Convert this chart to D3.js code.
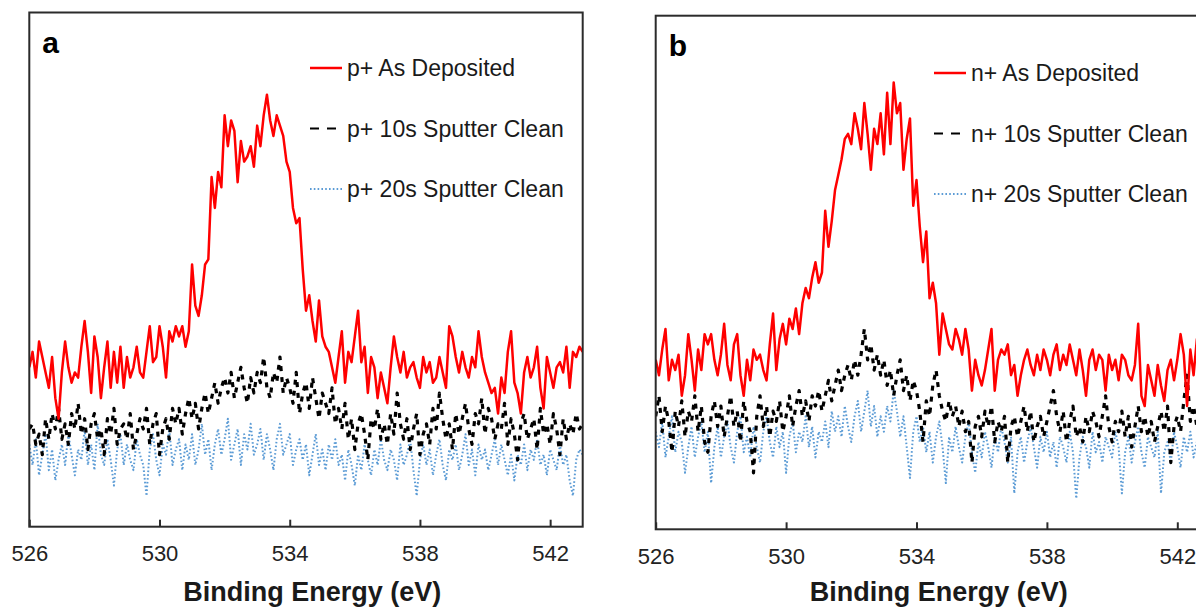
<!DOCTYPE html>
<html>
<head>
<meta charset="utf-8">
<script src="https://cdn.jsdelivr.net/npm/d3@7"></script>
<style>
  body { margin: 0; background: #fff; }
  text { font-family: "Liberation Sans", Arial, sans-serif; fill: #222; }
</style>
</head>
<body>
<svg id="chart" width="1196" height="609"></svg>
<script>
// O 1s spectra, binding energy 526 - 543 eV sampled every 0.1 eV, intensity in a.u.
var energyStart = 526;
var energyStep = 0.1;
var xDomain = [526, 543];
var yDomain = [0, 100];
var tickValues = [526, 530, 534, 538, 542];

var pLabels = ['p+ As Deposited', 'p+ 10s Sputter Clean', 'p+ 20s Sputter Clean'];
var nLabels = ['n+ As Deposited', 'n+ 10s Sputter Clean', 'n+ 20s Sputter Clean'];

var pAsDeposited = [
    31, 34, 29, 36, 33, 30, 27, 33, 25, 21,
    30, 36, 31, 28, 30, 29, 35, 40, 34, 26,
    37, 33, 25, 31, 36, 27, 34, 28, 35, 27,
    33, 29, 31, 35, 30, 29, 34, 39, 32, 33,
    39, 35, 29, 38, 36, 39, 37, 39, 35, 38,
    51, 43, 41, 45, 51, 52, 68, 62, 69, 66,
    80, 74, 79, 77, 67, 75, 71, 72, 74, 70,
    78, 74, 80, 84, 79, 76, 80, 78, 76, 71,
    69, 62, 59, 60, 50, 42, 45, 40, 36, 44,
    37, 35, 34, 31, 28, 33, 38, 28, 34, 32,
    37, 42, 32, 35, 26, 33, 31, 25, 30, 27,
    24, 31, 37, 33, 30, 34, 29, 31, 32, 29,
    27, 33, 30, 32, 28, 29, 33, 30, 27, 39,
    37, 33, 30, 34, 31, 29, 33, 31, 38, 33,
    30, 28, 26, 27, 22, 29, 26, 34, 38, 28,
    26, 22, 30, 33, 29, 31, 35, 27, 23, 33,
    30, 27, 31, 32, 30, 35, 27, 34, 33, 35,
    34
];

var p10sSputter = [
    19, 20, 16, 18, 14, 21, 17, 22, 19, 23,
    17, 20, 16, 22, 19, 24, 18, 21, 15, 20,
    22, 17, 19, 14, 21, 18, 23, 16, 19, 20,
    17, 22, 15, 18, 21, 19, 23, 16, 20, 22,
    14, 19, 21, 17, 23, 20, 23, 18, 22, 25,
    21, 24, 19, 23, 26, 22, 25, 28, 24, 27,
    29, 26, 30, 25, 28, 31, 27, 24, 29, 26,
    30, 28, 33, 27, 25, 30, 28, 33, 26, 29,
    27, 24, 30, 22, 26, 28, 23, 29, 25, 21,
    26, 24, 22, 27, 20, 23, 19, 24, 17, 21,
    15, 20, 22, 18, 13, 21, 19, 23, 17, 20,
    16, 22, 18, 26, 20, 17, 21, 15, 19, 22,
    14, 18, 20, 16, 23, 19, 26, 21, 17, 20,
    15, 22, 18, 21, 24, 19, 16, 22, 20, 25,
    18, 23, 21, 17, 20, 19, 24, 16, 21, 18,
    13, 20, 22, 17, 19, 21, 15, 23, 18, 20,
    16, 22, 19, 14, 21, 17, 20, 18, 22, 19,
    20
];

var p20sSputter = [
    16, 12, 17, 10, 14, 18, 11, 15, 9, 13,
    16, 12, 18, 14, 10, 15, 13, 19, 12, 16,
    11, 20, 14, 12, 17, 13, 8, 15, 18, 12,
    16, 13, 11, 17, 14, 12, 6, 15, 18, 13,
    10, 16, 14, 19, 12, 15, 17, 11, 16, 13,
    18, 12, 15, 20, 14, 17, 11, 16, 19, 14,
    17, 21, 13, 16, 19, 12, 18, 15, 20, 14,
    16, 19, 13, 18, 15, 11, 17, 20, 14, 16,
    18, 12, 15, 17, 13, 16, 10, 14, 18, 12,
    15, 11, 16, 13, 17, 12, 14, 9, 15, 12,
    8, 14, 11, 16, 13, 10, 15, 12, 17, 13,
    11, 15, 13, 9, 16, 12, 14, 17, 11, 6,
    13, 16, 12, 15, 10, 14, 17, 12, 9, 15,
    13, 16, 11, 14, 18, 12, 15, 10, 16, 13,
    15, 11, 14, 17, 12, 16, 13, 10, 14, 9,
    14, 12, 16, 11, 15, 13, 17, 12, 14, 10,
    15, 13, 11, 16, 12, 14, 9, 6, 13, 15,
    14
];

var nAsDeposited = [
    33, 30, 35, 39, 29, 33, 31, 34, 26, 30,
    38, 33, 27, 35, 31, 38, 36, 38, 33, 30,
    34, 40, 32, 29, 36, 38, 30, 26, 33, 29,
    35, 33, 34, 31, 29, 36, 42, 31, 37, 40,
    36, 41, 39, 43, 38, 44, 47, 45, 49, 52,
    48, 50, 62, 55, 60, 66, 69, 72, 76, 77,
    75, 81, 78, 74, 83, 77, 70, 78, 75, 81,
    73, 85, 75, 87, 81, 83, 70, 76, 80, 63,
    68, 59, 52, 58, 45, 48, 44, 34, 42, 39,
    36, 35, 39, 37, 34, 39, 35, 27, 33, 30,
    28, 31, 35, 39, 27, 33, 35, 34, 36, 30,
    32, 26, 30, 33, 35, 32, 30, 34, 31, 35,
    33, 30, 34, 36, 31, 34, 32, 36, 33, 30,
    35, 31, 26, 33, 35, 31, 34, 33, 27, 34,
    31, 33, 29, 34, 33, 30, 29, 32, 40, 26,
    24, 32, 29, 26, 32, 28, 25, 31, 33, 29,
    33, 38, 34, 24, 35, 30, 37, 32, 28, 33,
    31
];

var n10sSputter = [
    22, 26, 19, 24, 21, 15, 23, 20, 25, 18,
    23, 21, 26, 19, 24, 17, 15, 22, 25, 20,
    24, 18, 22, 26, 20, 23, 17, 25, 21, 19,
    11, 22, 26, 20, 24, 18, 23, 21, 25, 19,
    22, 26, 20, 24, 27, 22, 25, 21, 26, 24,
    27, 23, 26, 29, 25, 28, 31, 27, 30, 32,
    29, 33, 30, 34, 39, 33, 36, 31, 34, 30,
    33, 28, 31, 26, 30, 33, 27, 30, 25, 29,
    27, 23, 17, 25, 22, 28, 31, 26, 23, 21,
    25, 22, 24, 20, 23, 19, 21, 13, 20, 22,
    18, 23, 20, 24, 17, 21, 19, 22, 13, 20,
    22, 18, 21, 24, 19, 23, 17, 20, 22, 18,
    21, 24, 27, 22, 19, 23, 17, 21, 24, 18,
    20, 17, 22, 19, 23, 21, 18, 22, 26, 20,
    17, 21, 19, 23, 18, 22, 16, 20, 24, 19,
    22, 18, 21, 17, 20, 23, 19, 24, 13, 20,
    22, 19, 25, 30, 21, 24, 20, 18, 22, 19,
    21
];

var n20sSputter = [
    19, 16, 21, 14, 18, 22, 15, 19, 17, 11,
    16, 20, 14, 18, 21, 15, 19, 9, 16, 20,
    14, 18, 21, 16, 13, 19, 22, 15, 18, 14,
    20, 16, 13, 19, 22, 17, 14, 20, 16, 19,
    11, 18, 21, 15, 19, 17, 22, 16, 20, 14,
    19, 17, 21, 16, 23, 19, 22, 18, 24, 20,
    17, 22, 25, 19, 23, 27, 20, 24, 18, 22,
    19, 24, 21, 27, 23, 18, 22, 16, 10, 19,
    22, 17, 20, 15, 19, 13, 18, 21, 16, 9,
    18, 15, 20, 16, 13, 18, 21, 15, 11, 17,
    14, 19, 16, 12, 18, 15, 20, 17, 13, 18,
    7, 15, 18, 13, 17, 20, 16, 12, 18, 15,
    19, 14, 17, 12, 18, 16, 13, 19, 15, 6,
    14, 18, 16, 12, 19, 15, 17, 13, 18, 16,
    14, 19, 16, 7, 15, 18, 13, 17, 20, 15,
    12, 18, 16, 14, 19, 7, 15, 17, 13, 19,
    16, 12, 18, 15, 19, 14, 17, 13, 16, 18,
    15
];

// line looks: as deposited, 10s, 20s
var styles = [
    { color: '#ff0000', width: 2.5, dash: null, legendDash: null },
    { color: '#000000', width: 3.2, dash: '5,6', legendDash: '9,8' },
    { color: '#5b9bd5', width: 2, dash: '1.6,2.2', legendDash: '1.6,2.2' }
];

var panels = [
    { letter: 'a', left: 29.3, top: 12.5, right: 582.7, bottom: 526.7,
      series: [pAsDeposited, p10sSputter, p20sSputter], labels: pLabels,
      legendX: 347, legendY: 68 },
    { letter: 'b', left: 655.7, top: 15.7, right: 1209.9, bottom: 529.3,
      series: [nAsDeposited, n10sSputter, n20sSputter], labels: nLabels,
      legendX: 971, legendY: 73 }
];

var svg = d3.select('#chart');
svg.append('rect')
    .attr('width', 1196)
    .attr('height', 609)
    .attr('fill', '#fff');

panels.forEach(function(panel, p) {
    var x = d3.scaleLinear().domain(xDomain).range([panel.left, panel.right]);
    var y = d3.scaleLinear().domain(yDomain).range([panel.bottom, panel.top]);

    var g = svg.append('g').attr('class', 'panel-' + panel.letter);

    var clipId = 'clip-' + p;
    g.append('clipPath').attr('id', clipId)
        .append('rect')
        .attr('x', panel.left)
        .attr('y', panel.top)
        .attr('width', panel.right - panel.left)
        .attr('height', panel.bottom - panel.top);

    var line = d3.line()
        .x(function(d, i) { return x(energyStart + i * energyStep); })
        .y(function(d) { return y(d); });

    // draw 20s first so the red trace sits on top
    [2, 1, 0].forEach(function(s) {
        g.append('path')
            .datum(panel.series[s])
            .attr('clip-path', 'url(#' + clipId + ')')
            .attr('fill', 'none')
            .attr('stroke', styles[s].color)
            .attr('stroke-width', styles[s].width)
            .attr('stroke-dasharray', styles[s].dash)
            .attr('stroke-linejoin', 'round')
            .attr('d', line);
    });

    // plot frame
    g.append('rect')
        .attr('x', panel.left)
        .attr('y', panel.top)
        .attr('width', panel.right - panel.left)
        .attr('height', panel.bottom - panel.top)
        .attr('fill', 'none')
        .attr('stroke', '#2b2b2b')
        .attr('stroke-width', 2);

    // bottom axis, ticks point inward
    var axis = g.append('g')
        .attr('transform', 'translate(0,' + panel.bottom + ')')
        .call(d3.axisBottom(x)
            .tickValues(tickValues)
            .tickFormat(d3.format('d'))
            .tickSizeInner(-7)
            .tickSizeOuter(0)
            .tickPadding(19));
    axis.select('.domain').remove();
    axis.selectAll('.tick line')
        .attr('stroke', '#2b2b2b')
        .attr('stroke-width', 2);
    axis.selectAll('.tick text')
        .attr('fill', '#262626')
        .style('font-family', '"Liberation Sans", Arial, sans-serif')
        .style('font-size', '22px');

    g.append('text')
        .attr('x', panel.left + 283)
        .attr('y', 601)
        .attr('text-anchor', 'middle')
        .style('font-size', '27px')
        .style('font-weight', 'bold')
        .style('fill', '#1a1a1a')
        .text('Binding Energy (eV)');

    g.append('text')
        .attr('x', panel.left + 13)
        .attr('y', panel.top + 40)
        .style('font-size', '30px')
        .style('font-weight', 'bold')
        .style('fill', '#000')
        .text(panel.letter);

    // legend
    var legend = g.append('g').attr('class', 'legend');
    panel.labels.forEach(function(label, s) {
        var ly = panel.legendY + s * 60.5;
        legend.append('line')
            .attr('x1', panel.legendX - 37)
            .attr('x2', panel.legendX - 5)
            .attr('y1', ly)
            .attr('y2', ly)
            .attr('stroke', styles[s].color)
            .attr('stroke-width', s === 0 ? 2.5 : 2)
            .attr('stroke-dasharray', styles[s].legendDash);
        legend.append('text')
            .attr('x', panel.legendX)
            .attr('y', ly)
            .attr('dy', '0.36em')
            .style('font-size', '23px')
            .style('fill', '#1a1a1a')
            .text(label);
    });
});
</script>
</body>
</html>
